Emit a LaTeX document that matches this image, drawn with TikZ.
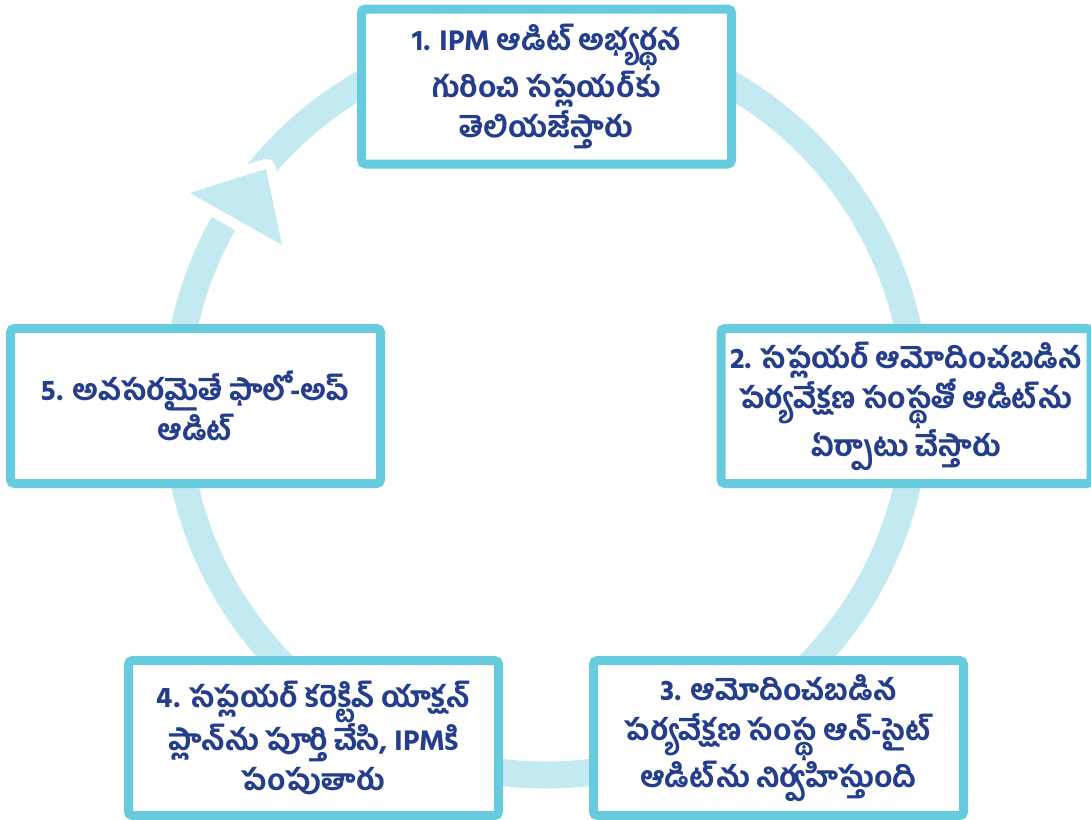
\documentclass[tikz,border=0pt]{standalone}
\usepackage{fontspec}
\usepackage{tikz}
\usetikzlibrary{calc}
\newfontfamily\telugu[Script=Telugu, WordSpace=0.85, BoldFont={Hind Guntur Bold}]{Hind Guntur}
\definecolor{ringblue}{HTML}{C3EAF0}
\definecolor{boxblue}{HTML}{66CBDD}
\definecolor{inkblue}{HTML}{243D8C}
\tikzset{stagebox/.style={draw=boxblue, fill=white, line width=9, rounded corners=4,
  minimum width=370, minimum height=155, inner sep=0, align=center,
  text=inkblue, font=\telugu\bfseries\fontsize{29}{40}\selectfont}}

\begin{document}
\begin{tikzpicture}[x=1pt, y=-1pt]
		%%%%% START %%%%%
		\useasboundingbox (0, 0) rectangle (1091, 819);
		
		\draw[line width=27, color=ringblue] (546, 405) circle (370);
		\draw[white, line width=20, line join=round] (190, 193) -- (266, 169) -- (282, 245) -- cycle;
		\fill[ringblue] (190, 193) -- (266, 169) -- (282, 245) -- cycle;
		
		\node[stagebox] (s1) at (546.5, 86.5) {1. IPM ఆడిట్ అభ్యర్థన\\ గురించి సప్లయర్‌కు\\ తెలియజేస్తారు};
		\node[stagebox] (s2) at (906, 406) {2. సప్లయర్ ఆమోదించబడిన\\ పర్యవేక్షణ సంస్థతో ఆడిట్‌ను\\ ఏర్పాటు చేస్తారు};
		\node[stagebox] (s3) at (778.5, 738) {3. ఆమోదించబడిన\\ పర్యవేక్షణ సంస్థ ఆన్-సైట్\\ ఆడిట్‌ను నిర్వహిస్తుంది};
		\node[stagebox] (s4) at (313.5, 738) {4. సప్లయర్ కరెక్టివ్ యాక్షన్\\ ప్లాన్‌ను పూర్తి చేసి, IPMకి\\ పంపుతారు};
		\node[stagebox] (s5) at (195.5, 406) {5. అవసరమైతే ఫాలో-అప్\\ ఆడిట్};
		
		%%%%% END %%%%%
\end{tikzpicture}
\end{document}
